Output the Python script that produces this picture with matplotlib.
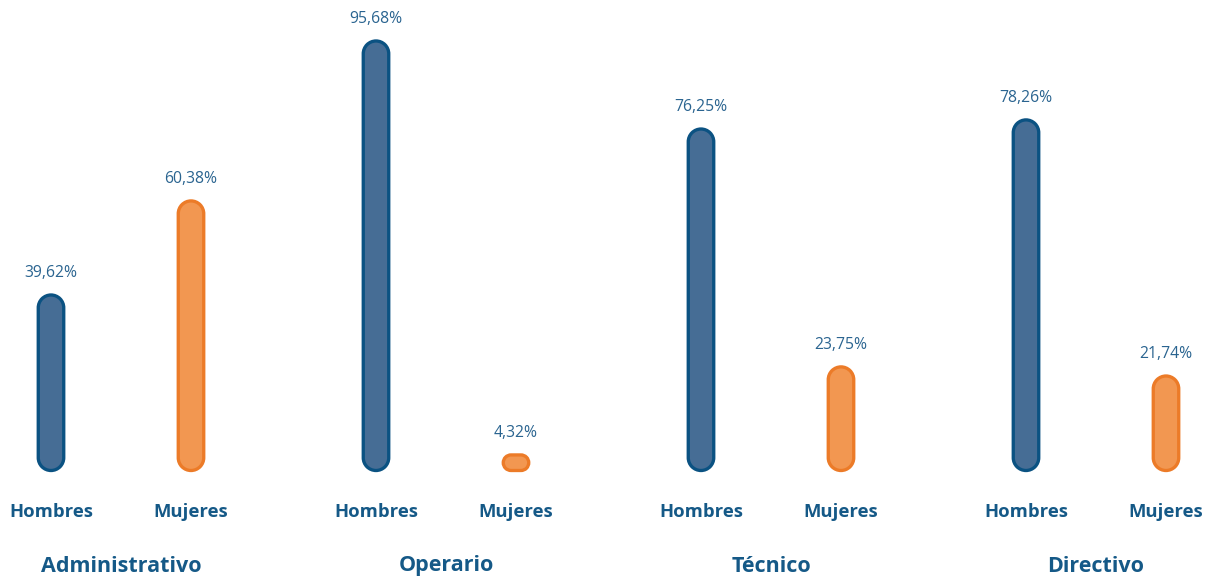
import numpy as np
import matplotlib
matplotlib.use("Agg")
import matplotlib.pyplot as plt
from matplotlib.patches import PathPatch
from matplotlib.path import Path
from matplotlib.transforms import blended_transform_factory, IdentityTransform

# ---- data ----
groups = ["Administrativo", "Operario", "Técnico", "Directivo"]
series = ["Hombres", "Mujeres"]
hombres = [39.62, 95.68, 76.25, 78.26]
mujeres = [60.38, 4.32, 23.75, 21.74]
value_labels_h = ["39,62%", "95,68%", "76,25%", "78,26%"]
value_labels_m = ["60,38%", "4,32%", "23,75%", "21,74%"]

# ---- style ----
W, H = 1212, 582
DPI = 100
PX_PER_X = 325.0      # pixels per group unit
PX_PER_Y = 4.531      # pixels per percent
BASE_PX = 474.5       # baseline (from top)
FIRST_CENTER_PX = 121.0
OFFSET = 70.0 / PX_PER_X
BAR_W_PX = 25.5
EDGE_PT = 3.3 * 72 / DPI
GAP_PX = 4.0

fills = ["#466d95", "#f29751"]
edges = ["#0b5282", "#ec7b28"]
text_col = "#155987"
val_col = "#2a6490"


def rounded_rect(x0, y0, w, h, r):
    verts, codes = [], []
    corners = [
        (x0 + w - r, y0 + h - r, 0, 90),
        (x0 + r, y0 + h - r, 90, 180),
        (x0 + r, y0 + r, 180, 270),
        (x0 + w - r, y0 + r, 270, 360),
    ]
    for i, (cx, cy, a1, a2) in enumerate(corners):
        arc = Path.arc(a1, a2)
        v = arc.vertices * r + np.array([cx, cy])
        c = arc.codes.copy()
        c[0] = Path.MOVETO if i == 0 else Path.LINETO
        verts.extend(v.tolist())
        codes.extend(c.tolist())
    verts.append(verts[0])
    codes.append(Path.CLOSEPOLY)
    return Path(verts, codes)


plt.rcParams['font.family'] = ['Open Sans', 'DejaVu Sans']

fig = plt.figure(figsize=(W / DPI, H / DPI), dpi=DPI)
ymax = 100.0
ax = fig.add_axes([0, (H - BASE_PX) / H, 1, ymax * PX_PER_Y / H])
ax.set_xlim(-FIRST_CENTER_PX / PX_PER_X, (W - FIRST_CENTER_PX) / PX_PER_X)
ax.set_ylim(0, ymax)
ax.axis("off")

label_tr = blended_transform_factory(ax.transData, fig.transFigure)

for gi, g in enumerate(groups):
    for si, (vals, labs) in enumerate([(hombres, value_labels_h), (mujeres, value_labels_m)]):
        v = vals[gi]
        xc = gi + (-OFFSET if si == 0 else OFFSET)
        (px_c, py_top) = ax.transData.transform((xc, v))
        (_, py_base) = ax.transData.transform((xc, 0))
        py_bot = py_base + GAP_PX
        h_px = py_top - py_bot
        r_px = min(BAR_W_PX, h_px) / 2.0
        path = rounded_rect(px_c - BAR_W_PX / 2, py_bot, BAR_W_PX, h_px, r_px)
        p = PathPatch(path, transform=IdentityTransform(),
                      facecolor=fills[si], edgecolor=edges[si],
                      linewidth=EDGE_PT, clip_on=False)
        fig.add_artist(p)
        ax.annotate(labs[gi], (xc, v), xytext=(0, 10), textcoords="offset points",
                    ha="center", va="bottom", fontsize=11.3, color=val_col)
        ax.text(xc, 1 - 512 / H, series[si], transform=label_tr, ha="center",
                va="center", fontsize=13.3, fontweight="bold", color=text_col)
    ax.text(gi, 1 - 566 / H, g, transform=label_tr, ha="center", va="center",
            fontsize=15.5, fontweight="bold", color=text_col)

fig.savefig("out.png", dpi=DPI, facecolor="white")
